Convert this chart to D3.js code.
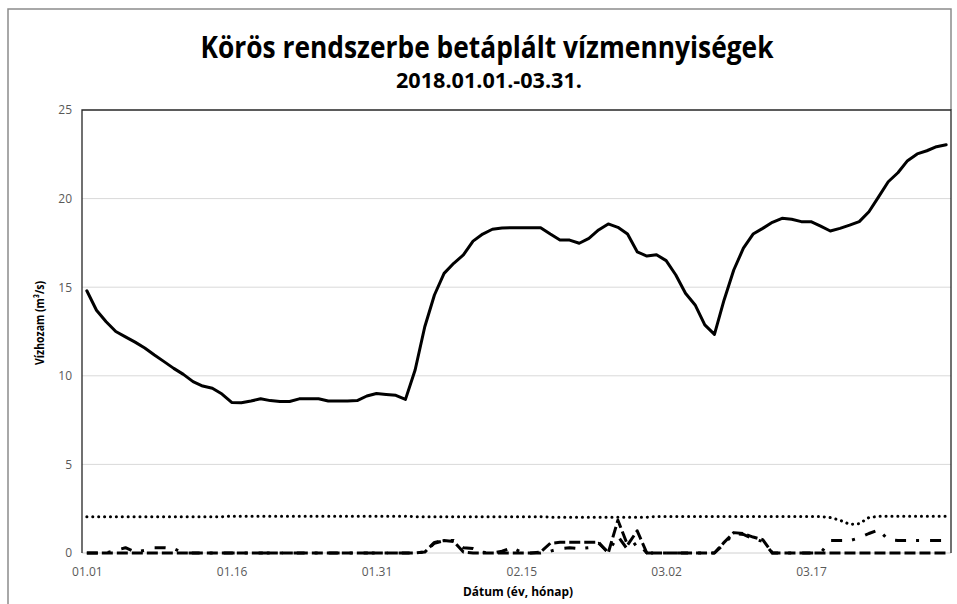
<!DOCTYPE html>
<html>
<head>
<meta charset="utf-8">
<script src="https://cdn.jsdelivr.net/npm/d3@7"></script>
<style>
  html, body { margin: 0; padding: 0; background: #fff; }
  svg { display: block; }
</style>
</head>
<body>
<svg id="chart" width="957" height="604"></svg>
<script>
// ---- data ----
const startDate = new Date(2018, 0, 1);
const endDate = new Date(2018, 3, 1);
const dates = d3.timeDay.range(startDate, endDate).map(d3.timeFormat("%m.%d"));
const tickLabels = ["01.01", "01.16", "01.31", "02.15", "03.02", "03.17"];
const yTicks = [0, 5, 10, 15, 20, 25];

const mainFlow = [
  14.8, 13.7, 13.05, 12.5, 12.2, 11.9, 11.57, 11.17, 10.8, 10.42,
  10.08, 9.67, 9.42, 9.3, 8.97, 8.5, 8.48, 8.58, 8.7, 8.6,
  8.55, 8.55, 8.7, 8.7, 8.7, 8.58, 8.58, 8.58, 8.6, 8.86,
  9.0, 8.95, 8.9, 8.67, 10.33, 12.77, 14.56, 15.78, 16.35, 16.82,
  17.6, 18.0, 18.27, 18.34, 18.36, 18.36, 18.36, 18.36, 18.0, 17.66,
  17.66, 17.48, 17.76, 18.23, 18.57, 18.38, 18.0, 17.0, 16.76, 16.83,
  16.5, 15.69, 14.66, 14.0, 12.87, 12.34, 14.28, 15.97, 17.2, 18.0,
  18.32, 18.66, 18.89, 18.83, 18.7, 18.7, 18.45, 18.17, 18.32, 18.5,
  18.7, 19.26, 20.1, 20.95, 21.46, 22.14, 22.52, 22.7, 22.93, 23.04
];

const dottedFlow = [
  2.05, 2.05, 2.05, 2.05, 2.05, 2.05, 2.05, 2.05, 2.05, 2.05,
  2.05, 2.05, 2.05, 2.05, 2.05, 2.08, 2.08, 2.08, 2.08, 2.08,
  2.08, 2.08, 2.08, 2.08, 2.08, 2.08, 2.08, 2.08, 2.08, 2.08,
  2.08, 2.08, 2.08, 2.08, 2.05, 2.05, 2.05, 2.05, 2.05, 2.05,
  2.05, 2.05, 2.05, 2.05, 2.05, 2.05, 2.05, 2.05, 2.02, 2.02,
  2.02, 2.02, 2.02, 2.02, 2.02, 2.02, 2.02, 2.02, 2.02, 2.06,
  2.06, 2.06, 2.06, 2.06, 2.06, 2.06, 2.06, 2.06, 2.06, 2.06,
  2.06, 2.06, 2.06, 2.06, 2.06, 2.06, 2.06, 2.0, 1.85, 1.62,
  1.65, 2.0, 2.07, 2.07, 2.07, 2.07, 2.07, 2.07, 2.07, 2.07
];

const dashedFlow = [
  0, 0, 0, 0, 0, 0, 0, 0, 0, 0,
  0, 0, 0, 0, 0, 0, 0, 0, 0, 0,
  0, 0, 0, 0, 0, 0, 0, 0, 0, 0,
  0, 0, 0, 0, 0, 0.05, 0.6, 0.7, 0.65, 0.05,
  0, 0, 0, 0, 0, 0, 0, 0.05, 0.55, 0.6,
  0.6, 0.6, 0.6, 0.6, 0, 1.85, 0.45, 1.25, 0, 0,
  0, 0, 0, 0, 0, 0, 0.6, 1.15, 1.1, 0.9,
  0.75, 0, 0, 0, 0, 0, 0, 0, 0, 0,
  0, 0, 0, 0, 0, 0, 0, 0, 0, 0
];

const dashDotFlow = [
  0, 0, 0, 0.15, 0.3, 0.05, 0.15, 0.3, 0.3, 0.25,
  0, 0, 0, 0, 0, 0, 0, 0, 0, 0,
  0, 0, 0, 0, 0, 0, 0, 0, 0, 0,
  0, 0, 0, 0, 0, 0.05, 0.55, 0.7, 0.7, 0.3,
  0.25, 0.05, 0, 0.1, 0.3, 0.05, 0, 0, 0.1, 0.25,
  0.3, 0.25, 0.3, 0.55, 0.05, 0.95, 0.2, 0.6, 0, 0,
  0, 0, 0, 0, 0, 0, 0.5, 1.1, 1.05, 0.8,
  0.65, 0, 0, 0, 0, 0, 0, 0.7, 0.7, 0.7,
  0.85, 1.1, 1.3, 0.75, 0.7, 0.7, 0.7, 0.7, 0.7, 0.7
];

const titleText = "Körös rendszerbe betáplált vízmennyiségek";
const subtitleText = "2018.01.01.-03.31.";
const yTitle = "Vízhozam (m³/s)";
const xTitle = "Dátum (év, hónap)";

// ---- layout ----
const svg = d3.select("#chart");
const plot = { left: 82, right: 951, top: 110, bottom: 553 };
const font = "'Open Sans', 'Noto Sans', sans-serif";

svg.append("rect").attr("width", 957).attr("height", 604).attr("fill", "#fff");

// outer frame
svg.append("path")
  .attr("d", "M8,604V9H951V110")
  .attr("fill", "none").attr("stroke", "#8c8c8c").attr("stroke-width", 1.5);

const x = d3.scalePoint().domain(dates).range([plot.left, plot.right]).padding(0.5);
const y = d3.scaleLinear().domain([0, 25]).range([plot.bottom, plot.top]);

// gridlines
svg.append("g").selectAll("line").data(yTicks.filter(t => t > 0 && t < 25)).join("line")
  .attr("x1", plot.left).attr("x2", plot.right)
  .attr("y1", d => y(d)).attr("y2", d => y(d))
  .attr("stroke", "#d9d9d9").attr("stroke-width", 1);

// bottom axis line (gray)
svg.append("line")
  .attr("x1", plot.left).attr("x2", plot.right)
  .attr("y1", y(0)).attr("y2", y(0))
  .attr("stroke", "#d0d0d0").attr("stroke-width", 1);

// plot border: left, top, right
svg.append("path")
  .attr("d", `M${plot.left},${plot.bottom}V${plot.top}H${plot.right}V${plot.bottom}`)
  .attr("fill", "none").attr("stroke", "#262626").attr("stroke-width", 1.3);

// y axis ticks
const yAxis = d3.axisLeft(y).tickValues(yTicks).tickSize(0).tickPadding(10);
const gy = svg.append("g").attr("transform", `translate(${plot.left},0)`).call(yAxis);
gy.select(".domain").remove();
gy.selectAll("text").attr("font-family", font).attr("font-size", 12).attr("fill", "#595959");

// x axis ticks
const xAxis = d3.axisBottom(x).tickValues(tickLabels).tickSize(0).tickPadding(14);
const gx = svg.append("g").attr("transform", `translate(0,${plot.bottom})`).call(xAxis);
gx.select(".domain").remove();
gx.selectAll("text").attr("font-family", font).attr("font-size", 12).attr("fill", "#595959");

// lines
const line = d3.line().x((d, i) => x(dates[i])).y(d => y(d));

svg.append("path").datum(dashDotFlow)
  .attr("d", line).attr("fill", "none").attr("stroke", "#000")
  .attr("stroke-width", 3).attr("stroke-dasharray", "11,10,3,11")
  .attr("stroke-linejoin", "round");

svg.append("path").datum(dashedFlow)
  .attr("d", line).attr("fill", "none").attr("stroke", "#000")
  .attr("stroke-width", 3).attr("stroke-dasharray", "11,4")
  .attr("stroke-linejoin", "round");

svg.append("path").datum(dottedFlow)
  .attr("d", line).attr("fill", "none").attr("stroke", "#000")
  .attr("stroke-width", 3).attr("stroke-dasharray", "0.1,5.8")
  .attr("stroke-linecap", "round");

svg.append("path").datum(mainFlow)
  .attr("d", line).attr("fill", "none").attr("stroke", "#000")
  .attr("stroke-width", 3).attr("stroke-linejoin", "round").attr("stroke-linecap", "round");

// titles
svg.append("text").text(titleText)
  .attr("x", 487).attr("y", 58).attr("text-anchor", "middle")
  .attr("font-family", font).attr("font-weight", "bold").attr("font-size", 31)
  .attr("textLength", 573).attr("lengthAdjust", "spacingAndGlyphs").attr("fill", "#000");

svg.append("text").text(subtitleText)
  .attr("x", 489).attr("y", 88).attr("text-anchor", "middle")
  .attr("font-family", font).attr("font-weight", "bold").attr("font-size", 21)
  .attr("textLength", 186).attr("lengthAdjust", "spacingAndGlyphs").attr("fill", "#000");

svg.append("text").text(xTitle)
  .attr("x", 518).attr("y", 596).attr("text-anchor", "middle")
  .attr("font-family", font).attr("font-weight", "bold").attr("font-size", 12.5)
  .attr("textLength", 110).attr("lengthAdjust", "spacingAndGlyphs").attr("fill", "#000");

svg.append("text").text(yTitle)
  .attr("transform", "translate(44,323) rotate(-90)").attr("text-anchor", "middle")
  .attr("font-family", font).attr("font-weight", "bold").attr("font-size", 13)
  .attr("textLength", 84).attr("lengthAdjust", "spacingAndGlyphs").attr("fill", "#000");
</script>
</body>
</html>
